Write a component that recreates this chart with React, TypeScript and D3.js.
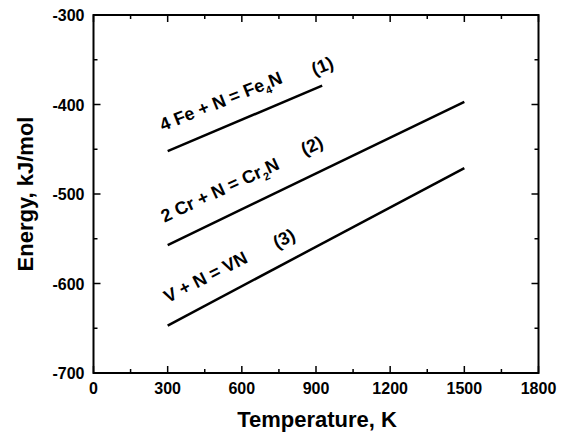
import React from "react";
import * as d3 from "d3";

const xDomain = [0, 1800];
const yDomain = [-700, -300];
const xMajorTicks = [0, 300, 600, 900, 1200, 1500, 1800];
const yMajorTicks = [-700, -600, -500, -400, -300];
const xMinorTicks = [150, 450, 750, 1050, 1350, 1650];
const yMinorTicks = [-650, -550, -450, -350];

const line1T = [300, 925];
const line1E = [-452, -379];
const line2T = [300, 1500];
const line2E = [-557, -397];
const line3T = [300, 1500];
const line3E = [-647, -471];

const labelT = [280, 287, 300];
const labelE = [-430, -532, -622];
const labelAngle = [-22, -25, -27];
const numT = [926, 884, 771];
const numE = [-357, -446, -550];
const numText = ["(1)", "(2)", "(3)"];

const W = 568, H = 436;
const L = 93.5, R = 538.5, T = 15, B = 373;
const FONT = "'Liberation Sans', Arial, Helvetica, sans-serif";

export default function App() {
  const x = d3.scaleLinear().domain(xDomain).range([L, R]);
  const y = d3.scaleLinear().domain(yDomain).range([B, T]);
  const lineGen = d3.line<[number, number]>().x(d => x(d[0])).y(d => y(d[1]));
  const lines = [
    d3.zip(line1T, line1E) as [number, number][],
    d3.zip(line2T, line2E) as [number, number][],
    d3.zip(line3T, line3E) as [number, number][],
  ];
  const MJ = 7, MN = 4;
  const labelContent = [
    <>
      4 Fe + N = Fe<tspan fontSize={11} dy={5}>4</tspan><tspan dy={-5}>N</tspan>
    </>,
    <>
      2 Cr + N = Cr<tspan fontSize={11} dy={5}>2</tspan><tspan dy={-5}>N</tspan>
    </>,
    <>V + N = VN</>,
  ];
  return (
    <svg width={W} height={H} style={{ position: "absolute", left: 0, top: 0, background: "#fff" }} fontFamily={FONT}>
      <rect x={0} y={0} width={W} height={H} fill="#fff" />
      <g stroke="#000" strokeWidth={1.5}>
        {xMajorTicks.map(t => (
          <g key={"xm" + t}>
            <line x1={x(t)} x2={x(t)} y1={B} y2={B - MJ} />
            <line x1={x(t)} x2={x(t)} y1={T} y2={T + MJ} />
          </g>
        ))}
        {xMinorTicks.map(t => (
          <g key={"xn" + t}>
            <line x1={x(t)} x2={x(t)} y1={B} y2={B - MN} />
            <line x1={x(t)} x2={x(t)} y1={T} y2={T + MN} />
          </g>
        ))}
        {yMajorTicks.map(t => (
          <g key={"ym" + t}>
            <line x1={L} x2={L + MJ} y1={y(t)} y2={y(t)} />
            <line x1={R} x2={R - MJ} y1={y(t)} y2={y(t)} />
          </g>
        ))}
        {yMinorTicks.map(t => (
          <g key={"yn" + t}>
            <line x1={L} x2={L + MN} y1={y(t)} y2={y(t)} />
            <line x1={R} x2={R - MN} y1={y(t)} y2={y(t)} />
          </g>
        ))}
      </g>
      <rect x={L} y={T} width={R - L} height={B - T} fill="none" stroke="#000" strokeWidth={2} />
      <g fontSize={16} fontWeight="bold" fill="#000">
        {xMajorTicks.map(t => (
          <text key={"xl" + t} x={x(t)} y={B + 21} textAnchor="middle">{t}</text>
        ))}
        {yMajorTicks.map(t => (
          <text key={"yl" + t} x={L - 9} y={y(t) + 6} textAnchor="end">{t}</text>
        ))}
      </g>
      <text x={(L + R) / 2 + 1} y={427} textAnchor="middle" fontSize={22} fontWeight="bold">Temperature, K</text>
      <text transform={`translate(33,${(T + B) / 2}) rotate(-90)`} textAnchor="middle" fontSize={22} fontWeight="bold">Energy, kJ/mol</text>
      {lines.map((d, i) => (
        <path key={"l" + i} d={lineGen(d) || ""} fill="none" stroke="#000" strokeWidth={2.5} />
      ))}
      <g fontSize={18} fontWeight="bold" fill="#000">
        {labelT.map((t, i) => (
          <text key={"a" + i} transform={`translate(${x(t)},${y(labelE[i])}) rotate(${labelAngle[i]})`}>
            {labelContent[i]}
          </text>
        ))}
        {numT.map((t, i) => (
          <text key={"n" + i} transform={`translate(${x(t)},${y(numE[i])}) rotate(${labelAngle[i]})`} textAnchor="middle" dy={6}>
            {numText[i]}
          </text>
        ))}
      </g>
    </svg>
  );
}
